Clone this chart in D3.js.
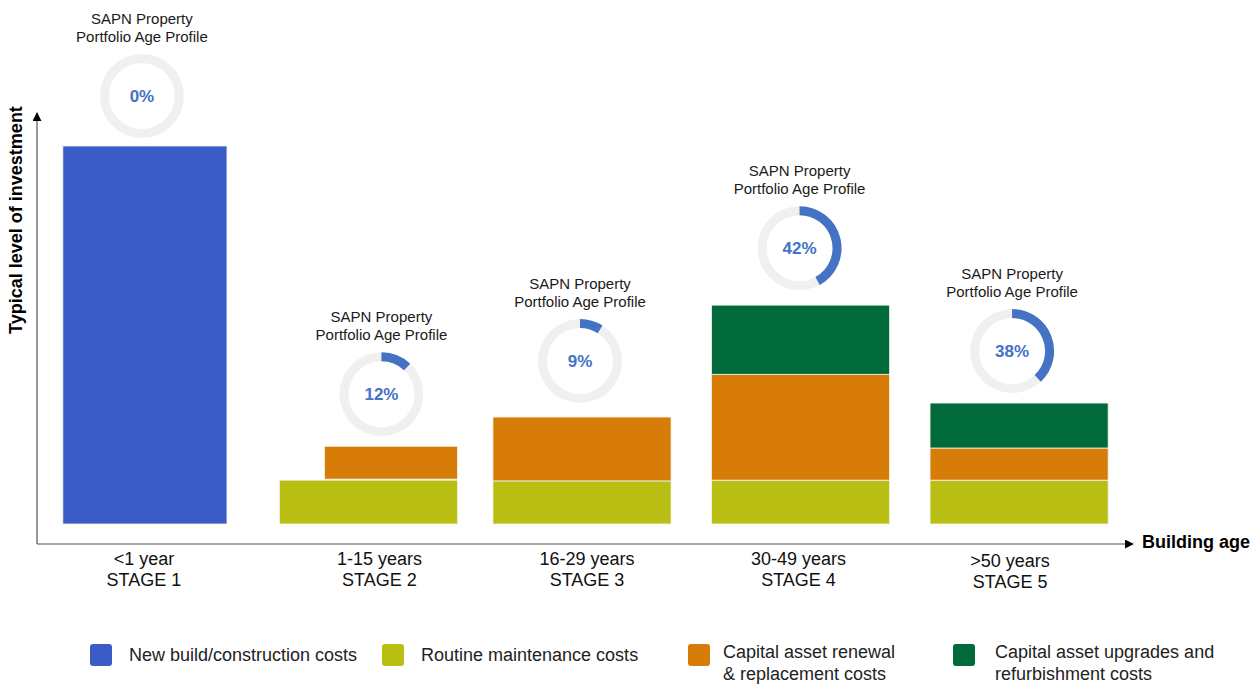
<!DOCTYPE html>
<html lang="en">
<head>
<meta charset="utf-8">
<title>SAPN building age investment profile</title>
<script src="https://d3js.org/d3.v7.min.js"></script>
<style>
  html, body { margin: 0; padding: 0; background: #fff; }
  svg text { font-family: "Liberation Sans", Arial, sans-serif; }
</style>
</head>
<body>
<div id="chart"></div>
<script>
// data (level of investment, new build = 100)
const stages = ["STAGE 1", "STAGE 2", "STAGE 3", "STAGE 4", "STAGE 5"];
const ageLabels = ["<1 year", "1-15 years", "16-29 years", "30-49 years", ">50 years"];
const newBuild = [100, 0, 0, 0, 0];
const routine = [0, 11.6, 11.4, 11.6, 11.6];
const renewal = [0, 8.7, 16.9, 28.0, 8.5];
const upgrades = [0, 0, 0, 18.3, 11.9];
const portfolioShare = [0, 12, 9, 42, 38];

const seriesKeys = ["newBuild", "routine", "renewal", "upgrades"];
const seriesNames = [
  ["New build/construction costs"],
  ["Routine maintenance costs"],
  ["Capital asset renewal", "& replacement costs"],
  ["Capital asset upgrades and", "refurbishment costs"]
];
const colors = ["#3B5BC6", "#B8BF12", "#D67C07", "#016A3A"];

// small hand nudges so things sit where the original slide put them
const barNudge = [0, 5, 0, 0, 0];
const labelNudge = [-1, 11, 5, -2, -9];
const donutNudge = [-3, 13, -2, -1, -7];
const donutLift = [3, 0, -3, -4, 1];

const W = 1256, H = 684;
const svg = d3.select("#chart").append("svg")
  .attr("width", W).attr("height", H);

const x = d3.scaleBand().domain(stages)
  .range([34, 1130]).paddingInner(0.185).paddingOuter(0.1);
const y = d3.scaleLinear().domain([0, 100]).range([524, 146]);

const table = stages.map((s, i) => ({
  stage: s, idx: i, newBuild: newBuild[i], routine: routine[i],
  renewal: renewal[i], upgrades: upgrades[i]
}));
const stack = d3.stack().keys(seriesKeys)(table);
const cx = i => x(stages[i]) + x.bandwidth() / 2 + barNudge[i];

// bars
const layers = svg.append("g").selectAll("g")
  .data(stack).join("g")
  .attr("fill", (d, i) => colors[i]);

function inset(d) {
  // stage 2 renewal block sits inset toward the right
  if (d.data.idx === 1 && d.key === "renewal") return x.bandwidth() * 0.253;
  if (d.data.idx === 0) return 7;
  return 0;
}
function insetRight(d) { return d.data.idx === 0 ? 7 : 0; }

layers.selectAll("rect")
  .data(d => d.map(v => Object.assign(v, { key: d.key })))
  .join("rect")
  .filter(d => d[1] - d[0] > 0)
  .attr("x", d => x(d.data.stage) + barNudge[d.data.idx] + inset(d))
  .attr("width", d => x.bandwidth() - inset(d) - insetRight(d))
  .attr("y", d => y(d[1]) + (d.data.idx === 1 && d.key === "renewal" ? -1 : 0))
  .attr("height", d => y(d[0]) - y(d[1]))
  .attr("stroke", "#f4f4ee")
  .attr("stroke-width", 0.8);

// axes with arrows
const defs = svg.append("defs");
defs.append("marker").attr("id", "arrow")
  .attr("viewBox", "0 0 10 10").attr("refX", 9).attr("refY", 5)
  .attr("markerWidth", 9).attr("markerHeight", 9)
  .attr("markerUnits", "userSpaceOnUse")
  .attr("orient", "auto")
  .append("path").attr("d", "M0,0L10,5L0,10Z").attr("fill", "#000");

svg.append("line")
  .attr("x1", 37).attr("y1", 544).attr("x2", 1133).attr("y2", 544)
  .attr("stroke", "#555").attr("stroke-width", 1.2)
  .attr("marker-end", "url(#arrow)");
svg.append("line")
  .attr("x1", 37).attr("y1", 544).attr("x2", 37).attr("y2", 113)
  .attr("stroke", "#555").attr("stroke-width", 1.2)
  .attr("marker-end", "url(#arrow)");

svg.append("text")
  .attr("transform", "translate(22,220) rotate(-90)")
  .attr("text-anchor", "middle")
  .attr("font-size", 18).attr("font-weight", "bold").attr("fill", "#000")
  .text("Typical level of investment");

svg.append("text")
  .attr("x", 1142).attr("y", 548)
  .attr("font-size", 18).attr("font-weight", "bold").attr("fill", "#000")
  .text("Building age");

// stage labels
const lab = svg.append("g").attr("font-size", 18).attr("fill", "#111")
  .attr("text-anchor", "middle");
stages.forEach((s, i) => {
  const shift = i === 4 ? 2 : 0;
  lab.append("text").attr("x", cx(i) + labelNudge[i])
    .attr("y", 565 + shift).text(ageLabels[i]);
  lab.append("text").attr("x", cx(i) + labelNudge[i])
    .attr("y", 586 + shift).text(s);
});

// portfolio donuts
const arc = d3.arc().innerRadius(33).outerRadius(42);
const tops = table.map(d => y(d.newBuild + d.routine + d.renewal + d.upgrades));
stages.forEach((s, i) => {
  const g = svg.append("g")
    .attr("transform", `translate(${cx(i) + donutNudge[i]},${tops[i] - 53 + donutLift[i]})`);
  g.append("path")
    .attr("d", arc({ startAngle: 0, endAngle: 2 * Math.PI }))
    .attr("fill", "#F0F0F0");
  if (portfolioShare[i] > 0) {
    g.append("path")
      .attr("d", arc({ startAngle: 0, endAngle: 2 * Math.PI * portfolioShare[i] / 100 }))
      .attr("fill", "#4472C4");
  }
  g.append("text").attr("text-anchor", "middle").attr("y", 6)
    .attr("font-size", 17).attr("font-weight", "bold").attr("fill", "#4472C4")
    .text(portfolioShare[i] + "%");
  g.append("text").attr("text-anchor", "middle").attr("y", -72)
    .attr("font-size", 15).attr("fill", "#1a1a1a").text("SAPN Property");
  g.append("text").attr("text-anchor", "middle").attr("y", -54)
    .attr("font-size", 15).attr("fill", "#1a1a1a").text("Portfolio Age Profile");
});

// legend
const legendX = [90, 382, 688, 953];
const leg = svg.append("g");
seriesNames.forEach((lines, i) => {
  leg.append("rect").attr("x", legendX[i]).attr("y", 644)
    .attr("width", 22).attr("height", 22).attr("rx", 3)
    .attr("fill", colors[i]);
  const t = leg.append("text").attr("font-size", 18).attr("fill", "#222");
  lines.forEach((ln, j) => {
    t.append("tspan")
      .attr("x", legendX[i] + (i === 3 ? 42 : i === 2 ? 35 : 39))
      .attr("y", (lines.length === 1 ? 661 : 658) + j * 22)
      .text(ln);
  });
});
</script>
</body>
</html>
